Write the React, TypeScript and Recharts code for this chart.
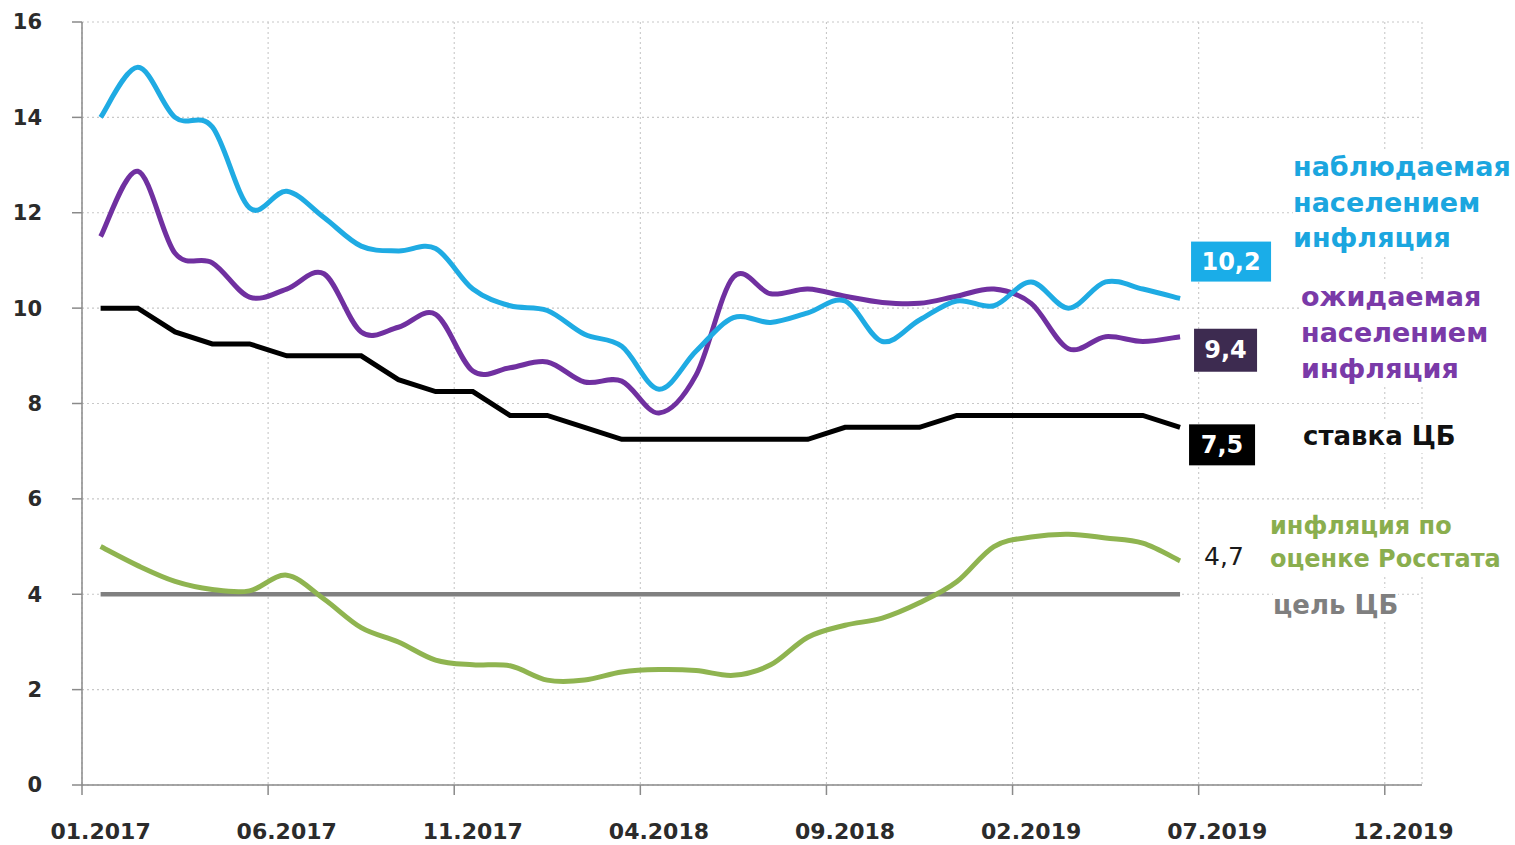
import React from 'react';
import { LineChart, Line, XAxis, YAxis, CartesianGrid } from 'recharts';

const FONT = '"DejaVu Sans", Verdana, sans-serif';

const months = [
  '01.2017', '02.2017', '03.2017', '04.2017', '05.2017', '06.2017', '07.2017', '08.2017', '09.2017', '10.2017', '11.2017', '12.2017',
  '01.2018', '02.2018', '03.2018', '04.2018', '05.2018', '06.2018', '07.2018', '08.2018', '09.2018', '10.2018', '11.2018', '12.2018',
  '01.2019', '02.2019', '03.2019', '04.2019', '05.2019', '06.2019',
];

const tickLabels = ['01.2017', '06.2017', '11.2017', '04.2018', '09.2018', '02.2019', '07.2019', '12.2019'];
const monthsOnAxis = 36;
const yTicks = [0, 2, 4, 6, 8, 10, 12, 14, 16];

const observed = [14.0, 15.05, 14.0, 13.8, 12.1, 12.45, 11.9, 11.3, 11.2, 11.25, 10.4, 10.05, 9.95, 9.45, 9.2, 8.3, 9.1, 9.8, 9.7, 9.9, 10.15, 9.3, 9.75, 10.15, 10.05, 10.55, 10.0, 10.55, 10.4, 10.2];
const expected = [11.5, 12.87, 11.15, 10.95, 10.23, 10.4, 10.72, 9.5, 9.6, 9.87, 8.68, 8.75, 8.87, 8.45, 8.47, 7.8, 8.6, 10.65, 10.3, 10.4, 10.25, 10.12, 10.1, 10.25, 10.4, 10.1, 9.15, 9.4, 9.3, 9.4];
const keyRate = [10, 10, 9.5, 9.25, 9.25, 9.0, 9.0, 9.0, 8.5, 8.25, 8.25, 7.75, 7.75, 7.5, 7.25, 7.25, 7.25, 7.25, 7.25, 7.25, 7.5, 7.5, 7.5, 7.75, 7.75, 7.75, 7.75, 7.75, 7.75, 7.5];
const rosstat = [5.0, 4.6, 4.27, 4.1, 4.07, 4.4, 3.9, 3.3, 3.0, 2.62, 2.52, 2.5, 2.2, 2.2, 2.37, 2.42, 2.4, 2.3, 2.52, 3.1, 3.35, 3.5, 3.82, 4.26, 5.0, 5.2, 5.26, 5.18, 5.07, 4.7];
const target = [4, 4, 4, 4, 4, 4, 4, 4, 4, 4, 4, 4, 4, 4, 4, 4, 4, 4, 4, 4, 4, 4, 4, 4, 4, 4, 4, 4, 4, 4];

const data = months.map((m, i) => ({
  month: m,
  pos: i + 0.5,
  observed: observed[i],
  expected: expected[i],
  keyRate: keyRate[i],
  rosstat: rosstat[i],
  target: target[i],
}));

const gridTicks = tickLabels.map((_, k) => k * 5);
const labelTicks = tickLabels.map((_, k) => k * 5 + 0.5);

// Excel-like smoothing (uniform Catmull-Rom through the points)
function smoothCurve(context: any) {
  let pts: number[][] = [];
  return {
    areaStart() {},
    areaEnd() {},
    lineStart() {
      pts = [];
    },
    lineEnd() {
      const n = pts.length;
      if (!n) return;
      context.moveTo(pts[0][0], pts[0][1]);
      for (let i = 0; i < n - 1; i++) {
        const p0 = pts[i - 1] || pts[i];
        const p1 = pts[i];
        const p2 = pts[i + 1];
        const p3 = pts[i + 2] || p2;
        context.bezierCurveTo(
          p1[0] + (p2[0] - p0[0]) / 6,
          p1[1] + (p2[1] - p0[1]) / 6,
          p2[0] - (p3[0] - p1[0]) / 6,
          p2[1] - (p3[1] - p1[1]) / 6,
          p2[0],
          p2[1]
        );
      }
    },
    point(x: number, y: number) {
      pts.push([+x, +y]);
    },
  };
}

const last = months.length - 1;
const fmt = (v: number) => String(v).replace('.', ',');

function boxLabel(fill: string, dx: number, dy: number, w: number, h: number) {
  return (props: any) => {
    if (props.index !== last) return null;
    const x = props.viewBox?.x ?? props.x;
    const y = props.viewBox?.y ?? props.y;
    return (
      <g>
        <rect x={x + dx} y={y + dy} width={w} height={h} fill={fill} />
        <text
          x={x + dx + w / 2}
          y={y + dy + h / 2}
          textAnchor="middle"
          dominantBaseline="central"
          fill="#ffffff"
          fontWeight="bold"
          fontSize={24}
          fontFamily={FONT}
        >
          {fmt(props.value)}
        </text>
      </g>
    );
  };
}

function plainLabel(dx: number, dy: number) {
  return (props: any) => {
    if (props.index !== last) return null;
    const x = props.viewBox?.x ?? props.x;
    const y = props.viewBox?.y ?? props.y;
    return (
      <text x={x + dx} y={y + dy} dominantBaseline="central" fill="#1a1a1a" fontSize={25} fontFamily={FONT}>
        {fmt(props.value)}
      </text>
    );
  };
}

const legendBase: React.CSSProperties = {
  position: 'absolute',
  fontFamily: FONT,
  fontWeight: 'bold',
  background: '#ffffff',
  whiteSpace: 'nowrap',
};

export default function App() {
  return (
    <div style={{ position: 'absolute', left: 0, top: 0, width: 1515, height: 845, background: '#ffffff' }}>
      <LineChart width={1515} height={845} data={data} margin={{ top: 22, right: 93, bottom: 0, left: 0 }}>
        <CartesianGrid xAxisId="b" stroke="#c8c8c8" strokeDasharray="2 3" strokeWidth={1.1} />
        <XAxis
          xAxisId="b"
          dataKey="pos"
          type="number"
          domain={[0, monthsOnAxis]}
          ticks={gridTicks}
          height={10}
          tickSize={10}
          stroke="#8a8a8a"
          strokeWidth={1.5}
          tickFormatter={() => ''}
          allowDataOverflow
        />
        <XAxis
          xAxisId="m"
          dataKey="pos"
          type="number"
          domain={[0, monthsOnAxis]}
          ticks={labelTicks}
          height={50}
          tickSize={0}
          tickMargin={28}
          axisLine={false}
          tickLine={false}
          interval={0}
          tickFormatter={(v: number) => tickLabels[Math.round(v - 0.5) / 5]}
          tick={{ fontSize: 22, fontWeight: 'bold', fill: '#2b2b2b', fontFamily: FONT }}
          allowDataOverflow
        />
        <YAxis
          domain={[0, 16]}
          ticks={yTicks}
          width={82}
          tickSize={10}
          tickMargin={30}
          stroke="#8a8a8a"
          strokeWidth={1.5}
          interval={0}
          tick={{ fontSize: 21, fontWeight: 'bold', fill: '#2b2b2b', fontFamily: FONT }}
        />
        <Line
          xAxisId="m"
          dataKey="target"
          type="linear"
          stroke="#808080"
          strokeWidth={4.5}
          dot={false}
          isAnimationActive={false}
        />
        <Line
          xAxisId="m"
          dataKey="rosstat"
          type={smoothCurve as any}
          stroke="#8fb450"
          strokeWidth={5}
          dot={false}
          isAnimationActive={false}
          label={plainLabel(24, -4)}
        />
        <Line
          xAxisId="m"
          dataKey="keyRate"
          type="linear"
          stroke="#000000"
          strokeWidth={5}
          dot={false}
          isAnimationActive={false}
          label={boxLabel('#000000', 9, -3, 66, 41)}
        />
        <Line
          xAxisId="m"
          dataKey="expected"
          type={smoothCurve as any}
          stroke="#7030a0"
          strokeWidth={5}
          dot={false}
          isAnimationActive={false}
          label={boxLabel('#3d2b50', 14, -8, 63, 43)}
        />
        <Line
          xAxisId="m"
          dataKey="observed"
          type={smoothCurve as any}
          stroke="#1fabe3"
          strokeWidth={5}
          dot={false}
          isAnimationActive={false}
          label={boxLabel('#1aade8', 11, -57, 80, 40)}
        />
      </LineChart>

      <div style={{ ...legendBase, left: 1293, top: 149, width: 222, color: '#1ba6df', fontSize: 27, lineHeight: '35.5px' }}>
        наблюдаемая<br />населением<br />инфляция
      </div>
      <div style={{ ...legendBase, left: 1301, top: 279, width: 214, color: '#7a3aa8', fontSize: 27, lineHeight: '36px' }}>
        ожидаемая<br />населением<br />инфляция
      </div>
      <div style={{ ...legendBase, left: 1303, top: 419, color: '#111111', fontSize: 26, lineHeight: '34px' }}>
        ставка ЦБ
      </div>
      <div style={{ ...legendBase, left: 1270, top: 510, color: '#8aae4e', fontSize: 24, lineHeight: '33px' }}>
        инфляция по<br />оценке Росстата
      </div>
      <div style={{ ...legendBase, left: 1273, top: 588, color: '#7f7f7f', fontSize: 26, lineHeight: '34px' }}>
        цель ЦБ
      </div>
    </div>
  );
}
